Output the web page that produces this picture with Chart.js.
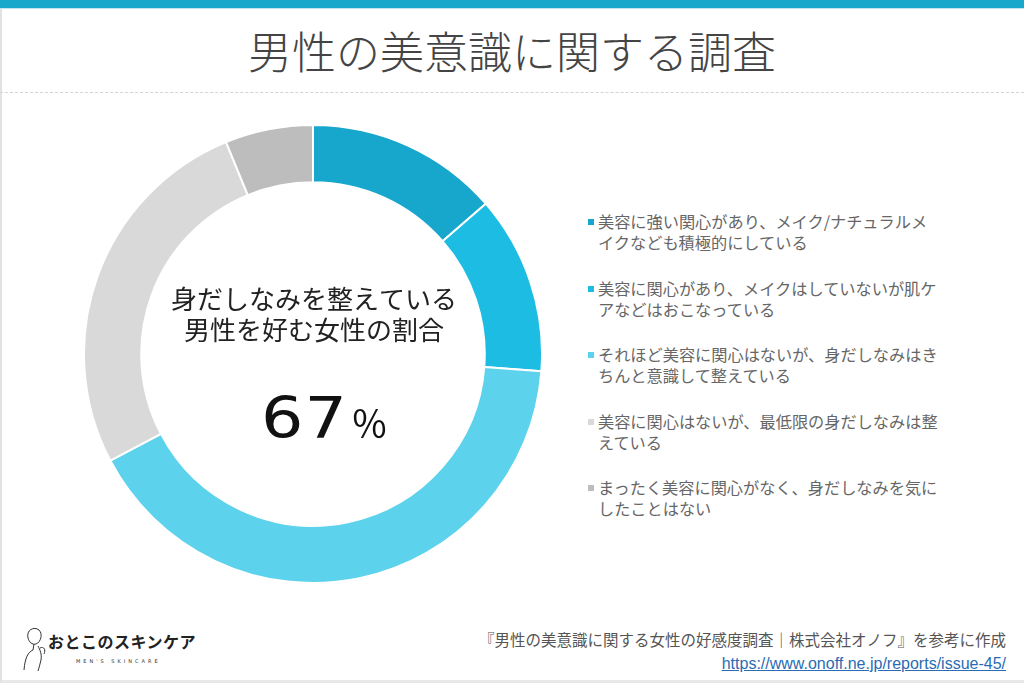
<!DOCTYPE html>
<html lang="ja">
<head>
  <meta charset="UTF-8" />
  <title>男性の美意識に関する調査</title>
  <script src="https://cdn.jsdelivr.net/npm/chart.js"></script>
  <style>
    html, body { margin: 0; padding: 0; background: #ffffff; }
    body { width: 1024px; height: 683px; position: relative; overflow: hidden; font-family: 'Noto Sans CJK JP', 'Noto Sans', sans-serif; }
    .frame { position: absolute; left: 0; top: 0; width: 1022px; height: 680px; border-left: 2px solid #e2e2e2; border-bottom: 3px solid #e8e8e8; }
    .topbar { position: absolute; left: 0; top: 0; width: 1024px; height: 8px; background: #17a8cc; border-bottom: 1px solid #bfe6f1; }
    h1 { position: absolute; top: 22px; left: 0; width: 1024px; margin: 0; text-align: center; font-size: 44px; font-weight: 300; color: #444; letter-spacing: 0; line-height: 56px; }
    .dash { position: absolute; left: 0; top: 92px; width: 1024px; border-top: 1px dashed #d4d4d4; }
    .chart-box { position: absolute; left: 83px; top: 124px; width: 460px; height: 460px; }
    #legend { position: absolute; left: 587px; top: 211px; width: 380px; margin: 0; padding: 0; list-style: none; }
    #legend li { position: relative; padding-left: 11px; height: 66.5px; font-size: 16.2px; line-height: 21px; color: #666; white-space: nowrap; }
    #legend li span.box { position: absolute; left: 1px; top: 8px; width: 6px; height: 6px; }
    .logo { position: absolute; left: 20px; top: 624px; width: 190px; height: 48px; }
    .logo .name { position: absolute; left: 28px; top: 5px; font-size: 16px; font-weight: 700; color: #222; letter-spacing: 0.5px; white-space: nowrap; }
    .logo .sub { position: absolute; left: 56px; top: 34px; font-size: 5px; color: #333; letter-spacing: 3px; font-family: 'DejaVu Sans', sans-serif; white-space: nowrap; }
    .src { position: absolute; right: 18px; top: 628px; text-align: right; font-size: 15.5px; color: #555; line-height: 23px; white-space: nowrap; }
    .src a { color: #2a6cb3; text-decoration: underline; font-family: 'Liberation Sans', sans-serif; font-size: 16px; }
  </style>
</head>
<body>
  <div class="frame"></div>
  <div class="topbar"></div>
  <h1>男性の美意識に関する調査</h1>
  <div class="dash"></div>

  <div class="chart-box"><canvas id="donut"></canvas></div>
  <ul id="legend"></ul>

  <div class="logo">
    <svg width="28" height="48" viewBox="0 0 28 48" style="position:absolute;left:0;top:0">
      <path d="M8 14 C6 6 14 2 19 6 C23 10 21 18 16 20 C12 21 9 18 8 14 Z" fill="none" stroke="#333" stroke-width="1"/>
      <path d="M14 20 L13 26 C8 28 5 34 4 46 M18 22 C20 26 22 30 21 36 C20 40 19 44 18 47" fill="none" stroke="#333" stroke-width="1"/>
      <path d="M20 24 C24 22 26 26 24 30" fill="none" stroke="#333" stroke-width="1"/>
    </svg>
    <div class="name">おとこのスキンケア</div>
    <div class="sub">MEN'S SKINCARE</div>
  </div>

  <div class="src">
    『男性の美意識に関する女性の好感度調査｜株式会社オノフ』を参考に作成<br />
    <a href="https://www.onoff.ne.jp/reports/issue-45/">https://www.onoff.ne.jp/reports/issue-45/</a>
  </div>

  <script>
    // survey answers (two display lines each)
    const categories = [
      ['美容に強い関心があり、メイク/ナチュラルメ', 'イクなども積極的にしている'],
      ['美容に関心があり、メイクはしていないが肌ケ', 'アなどはおこなっている'],
      ['それほど美容に関心はないが、身だしなみはき', 'ちんと意識して整えている'],
      ['美容に関心はないが、最低限の身だしなみは整', 'えている'],
      ['まったく美容に関心がなく、身だしなみを気に', 'したことはない']
    ];
    const shares = [13.6, 12.6, 41.1, 26.5, 6.2];
    const colors = ['#17a7cc', '#1dbde3', '#5cd2ec', '#d9d9d9', '#bdbdbd'];
    const centerLines = ['身だしなみを整えている', '男性を好む女性の割合'];
    const centerValue = '67';

    const centerText = {
      id: 'centerText',
      afterDraw(chart) {
        const meta = chart.getDatasetMeta(0).data[0];
        if (!meta) return;
        const ctx = chart.ctx;
        const cx = meta.x, cy = meta.y;
        ctx.save();
        ctx.fillStyle = '#222';
        ctx.textAlign = 'center';
        ctx.textBaseline = 'middle';
        ctx.font = '400 26px "Noto Sans CJK JP"';
        ctx.fillText(centerLines[0], cx + 1, cy - 55);
        ctx.fillText(centerLines[1], cx + 1, cy - 24);
        ctx.fillStyle = '#111';
        ctx.textAlign = 'left';
        ctx.textBaseline = 'alphabetic';
        // wide digits like the original rounded face
        ctx.save();
        ctx.translate(cx - 52, cy + 84);
        ctx.scale(1.17, 1);
        ctx.font = '400 57px "DejaVu Sans"';
        ctx.letterSpacing = '1px';
        ctx.fillText(centerValue, 0, 0);
        ctx.restore();
        ctx.font = '400 37px "Noto Sans CJK JP"';
        ctx.fillText('％', cx + 38, cy + 84);
        ctx.restore();
      }
    };

    new Chart(document.getElementById('donut'), {
      type: 'doughnut',
      data: {
        labels: categories,
        datasets: [{
          data: shares,
          backgroundColor: colors,
          borderColor: '#ffffff',
          borderWidth: 2
        }]
      },
      options: {
        responsive: true,
        maintainAspectRatio: false,
        animation: false,
        cutout: '75%',
        layout: { padding: 0 },
        plugins: { legend: { display: false }, tooltip: { enabled: false } }
      },
      plugins: [centerText]
    });

    // html legend from the same arrays
    const ul = document.getElementById('legend');
    categories.forEach((lines, i) => {
      const li = document.createElement('li');
      const box = document.createElement('span');
      box.className = 'box';
      box.style.background = colors[i];
      li.appendChild(box);
      li.appendChild(document.createTextNode(lines[0]));
      li.appendChild(document.createElement('br'));
      li.appendChild(document.createTextNode(lines[1]));
      ul.appendChild(li);
    });
  </script>
</body>
</html>
